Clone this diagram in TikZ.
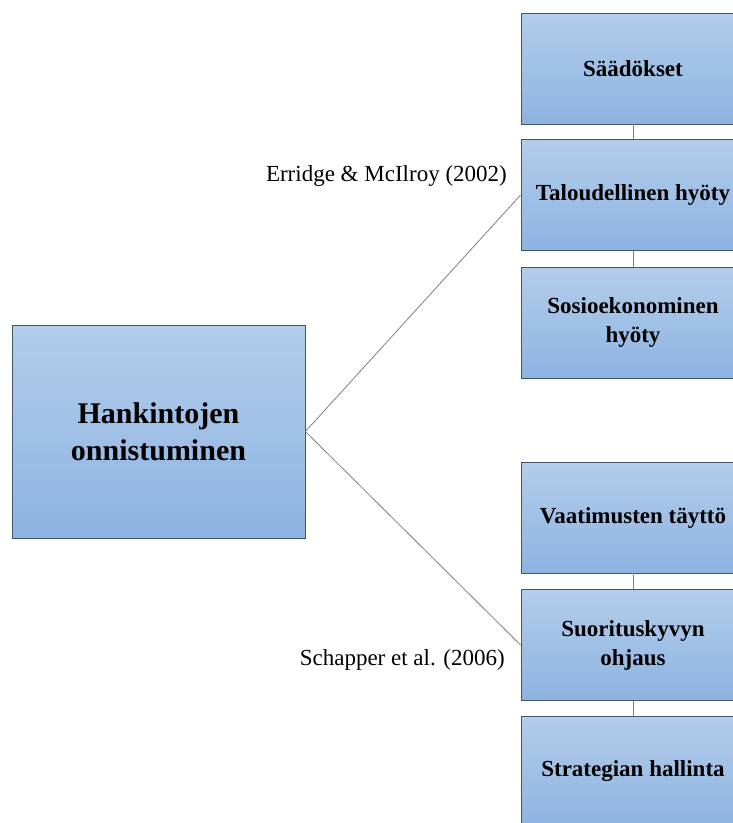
\documentclass[tikz,border=0pt]{standalone}
\usepackage{fontspec}
\setmainfont{Liberation Serif}
\usetikzlibrary{positioning}
\definecolor{boxtop}{HTML}{B3CDEA}
\definecolor{boxbot}{HTML}{8DB3E2}
\definecolor{boxline}{HTML}{44546A}
\definecolor{linkgray}{HTML}{7F7F7F}

\begin{document}
\begin{tikzpicture}[
    x=1pt, y=-1pt,
    goal/.style={rectangle, draw=boxline, line width=0.8pt, top color=boxtop, bottom color=boxbot, minimum width=224pt, minimum height=111pt, inner sep=0pt, align=center, font=\bfseries\fontsize{23}{29}\selectfont},
    mainbox/.style={goal, minimum width=293pt, minimum height=213pt, font=\bfseries\fontsize{30}{37}\selectfont},
    link/.style={draw=linkgray, line width=0.8pt},
    cite/.style={font=\fontsize{23}{26}\selectfont, inner sep=0pt}
]
    \useasboundingbox (0,0) rectangle (733,823);

    % Main
    \node[mainbox] (success) at (158.5,431.5) {Hankintojen\\onnistuminen};

    % Erridge & McIlroy
    \node[goal] (acts) at (633,68.5) {Säädökset};
    \node[goal] (econ) at (633,195) {Taloudellinen hyöty};
    \node[goal] (socio) at (633,322.5) {Sosioekonominen\\hyöty};

    % Schapper et al.
    \node[goal] (reqs) at (633,517.5) {Vaatimusten täyttö};
    \node[goal] (perf) at (633,645) {Suorituskyvyn\\ohjaus};
    \node[goal] (strat) at (633,771.5) {Strategian hallinta};

    \node[cite, anchor=east] (erridge) at (507,176) {Erridge \& McIlroy (2002)};
    \node[cite, anchor=east] (schapper) at (505,660) {Schapper et al. (2006)};

    \draw[link] (success.east) -- (econ.west);
    \draw[link] (success.east) -- (perf.west);
    \draw[link] (acts) -- (econ);
    \draw[link] (econ) -- (socio);
    \draw[link] (reqs) -- (perf);
    \draw[link] (perf) -- (strat);
\end{tikzpicture}
\end{document}
